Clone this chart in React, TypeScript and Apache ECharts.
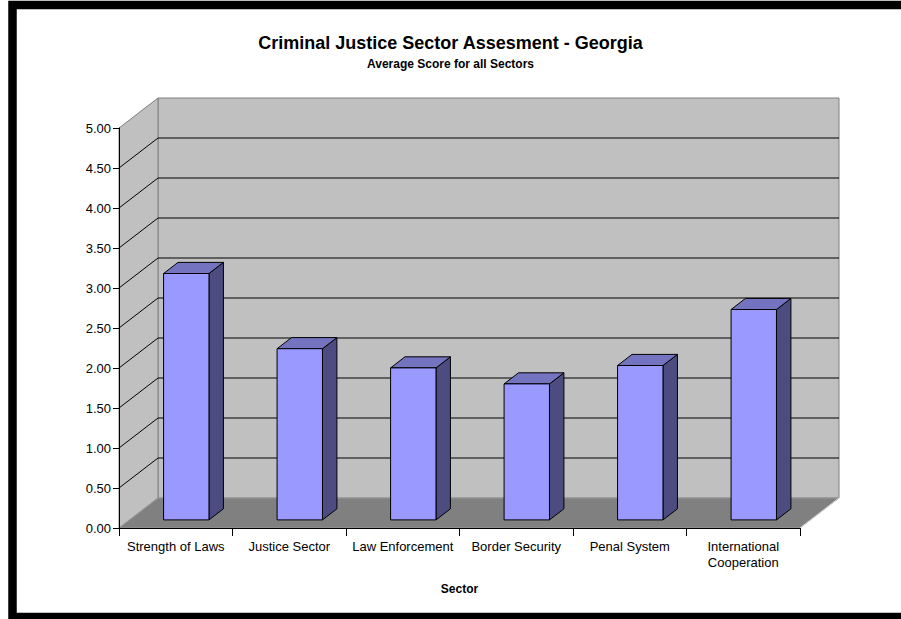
import React, { useEffect, useRef } from "react";
import * as echarts from "echarts";

const categories = [
  "Strength of Laws",
  "Justice Sector",
  "Law Enforcement",
  "Border Security",
  "Penal System",
  "International\nCooperation",
];
const scores = [3.08, 2.14, 1.9, 1.7, 1.93, 2.63];
const yTicks = [0, 0.5, 1, 1.5, 2, 2.5, 3, 3.5, 4, 4.5, 5];

const FONT = "Arial, 'Liberation Sans', Helvetica, sans-serif";
const DX = 39;
const DY = -30;
const F1 = 0.27;
const F2 = 0.64;

export default function App() {
  const ref = useRef<HTMLDivElement>(null);
  useEffect(() => {
    if (!ref.current) return;
    const chart = echarts.init(ref.current, undefined, { renderer: "svg" });
    const option: any = {
      animation: false,
      backgroundColor: "#ffffff",
      title: {
        text: "Criminal Justice Sector Assesment - Georgia",
        subtext: "Average Score for all Sectors",
        left: "center",
        top: 29,
        itemGap: 6,
        textStyle: { fontFamily: FONT, fontSize: 18, fontWeight: "bold", color: "#000" },
        subtextStyle: { fontFamily: FONT, fontSize: 12, fontWeight: "bold", color: "#000" },
      },
      grid: { left: 119, right: 101, top: 128, bottom: 91 },
      xAxis: {
        type: "category",
        data: categories,
        z: 10,
        axisLine: { show: true, lineStyle: { color: "#000", width: 1 } },
        axisTick: { show: true, length: 8, interval: 0, lineStyle: { color: "#000" } },
        axisLabel: {
          interval: 0,
          margin: 10,
          fontFamily: FONT,
          fontSize: 13,
          lineHeight: 16,
          color: "#000",
        },
        name: "Sector",
        nameLocation: "middle",
        nameGap: 55,
        nameTextStyle: { fontFamily: FONT, fontSize: 12, fontWeight: "bold", color: "#000" },
        splitLine: { show: false },
      },
      yAxis: {
        type: "value",
        min: 0,
        max: 5,
        interval: 0.5,
        z: 10,
        axisLine: { show: true, lineStyle: { color: "#000", width: 1 } },
        axisTick: { show: true, length: 6, lineStyle: { color: "#000" } },
        axisLabel: {
          margin: 8,
          fontFamily: FONT,
          fontSize: 13,
          color: "#000",
          formatter: (v: number) => v.toFixed(2),
        },
        splitLine: { show: false },
      },
      series: [
        {
          type: "custom",
          z: 1,
          silent: true,
          data: [[0, 0]],
          renderItem: (params: any, api: any) => {
            const cs = params.coordSys;
            const x0 = cs.x;
            const x1 = cs.x + cs.width;
            const yT = cs.y;
            const yB = cs.y + cs.height;
            const children: any[] = [];
            children.push({
              type: "polygon",
              shape: {
                points: [
                  [x0 + DX, yT + DY],
                  [x1 + DX, yT + DY],
                  [x1 + DX, yB + DY],
                  [x0 + DX, yB + DY],
                ],
              },
              style: { fill: "#C0C0C0", stroke: "#808080", lineWidth: 1 },
            });
            children.push({
              type: "polygon",
              shape: {
                points: [
                  [x0, yT],
                  [x0 + DX, yT + DY],
                  [x0 + DX, yB + DY],
                  [x0, yB],
                ],
              },
              style: { fill: "#C0C0C0", stroke: "#808080", lineWidth: 1 },
            });
            children.push({
              type: "polygon",
              shape: {
                points: [
                  [x0, yB],
                  [x1, yB],
                  [x1 + DX, yB + DY],
                  [x0 + DX, yB + DY],
                ],
              },
              style: { fill: "#808080", stroke: "#9a9a9a", lineWidth: 1 },
            });
            children.push({
              type: "line",
              shape: { x1: x1, y1: yB, x2: x1 + DX, y2: yB + DY },
              style: { stroke: "#d8d8d8", lineWidth: 1 },
            });
            yTicks.forEach((v) => {
              if (v <= 0 || v >= 5) return;
              const y = api.coord([0, v])[1];
              children.push({
                type: "polyline",
                shape: {
                  points: [
                    [x0, y],
                    [x0 + DX, y + DY],
                    [x1 + DX, y + DY],
                  ],
                },
                style: { fill: "none", stroke: "#000", lineWidth: 1 },
              });
            });
            return { type: "group", children };
          },
        },
        {
          type: "custom",
          z: 3,
          data: scores.map((v, i) => [i, v]),
          renderItem: (params: any, api: any) => {
            const p = api.coord([api.value(0), api.value(1)]);
            const p0 = api.coord([api.value(0), 0]);
            const band = api.size([1, 0])[0];
            const w = band * 0.4;
            const xl = p[0] - w / 2 + F1 * DX;
            const xr = xl + w;
            const yt = p[1] + F1 * DY;
            const yb = p0[1] + F1 * DY;
            const ddx = (F2 - F1) * DX;
            const ddy = (F2 - F1) * DY;
            return {
              type: "group",
              children: [
                {
                  type: "polygon",
                  shape: {
                    points: [
                      [xr, yt],
                      [xr + ddx, yt + ddy],
                      [xr + ddx, yb + ddy],
                      [xr, yb],
                    ],
                  },
                  style: { fill: "#4C4C80", stroke: "#000", lineWidth: 1 },
                },
                {
                  type: "polygon",
                  shape: {
                    points: [
                      [xl, yt],
                      [xr, yt],
                      [xr + ddx, yt + ddy],
                      [xl + ddx, yt + ddy],
                    ],
                  },
                  style: { fill: "#7373BF", stroke: "#000", lineWidth: 1 },
                },
                {
                  type: "rect",
                  shape: { x: xl, y: yt, width: w, height: yb - yt },
                  style: { fill: "#9999FF", stroke: "#000", lineWidth: 1 },
                },
              ],
            };
          },
        },
      ],
      graphic: [
        {
          type: "rect",
          z: 100,
          silent: true,
          shape: { x: 12.5, y: 5, width: 900, height: 612 },
          style: { fill: "none", stroke: "#000", lineWidth: 8.5 },
        },
      ],
    };
    chart.setOption(option);
    return () => chart.dispose();
  }, []);
  return (
    <div
      ref={ref}
      style={{ position: "fixed", left: 0, top: 0, width: 901, height: 619 }}
    />
  );
}
